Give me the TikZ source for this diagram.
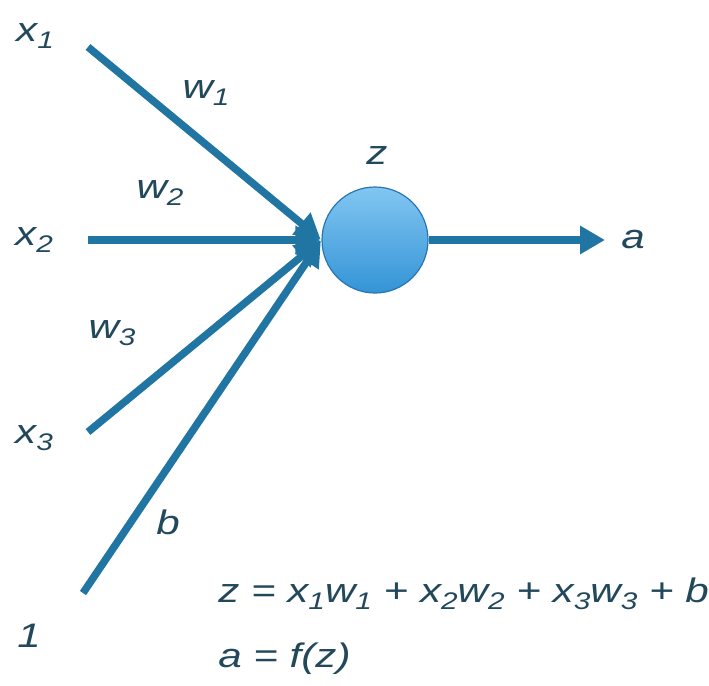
\documentclass[tikz,border=0pt]{standalone}
\usepackage{fontspec}
\setmainfont{Liberation Sans}
\usetikzlibrary{arrows.meta}
\definecolor{linec}{RGB}{32,117,162}
\definecolor{txtc}{RGB}{34,72,92}
\definecolor{ctop}{RGB}{130,198,242}
\definecolor{cbot}{RGB}{52,148,214}
\definecolor{cedge}{RGB}{40,118,175}
\newcommand{\sbs}[1]{\raisebox{-0.38ex}{\fontsize{24}{24}\selectfont #1}}
\tikzset{
  lbl/.style={text=txtc,font=\fontsize{34}{36}\selectfont\itshape,inner sep=0pt,xscale=1.24},
  conn/.style={draw=linec,line width=7.5pt,-{Triangle[length=25pt,width=27pt]},shorten >=1pt},
}
\begin{document}
\begin{tikzpicture}[x=1pt,y=-1pt]
\useasboundingbox (0,0) rectangle (709,685);
\node[circle,minimum size=106pt,inner sep=0pt,draw=cedge,line width=1.2pt,top color=ctop,bottom color=cbot] (c) at (375,240) {};
\coordinate (s1) at (88,47);
\coordinate (s2) at (88,240);
\coordinate (s3) at (88,432);
\coordinate (s4) at (83,593);
\coordinate (out) at (606,240);
\node[lbl] (x1) at (35,36) {x\sbs{1}};
\node[lbl] (x2) at (34,240) {x\sbs{2}};
\node[lbl] (x3) at (34,438) {x\sbs{3}};
\node[lbl] (one) at (29,636) {1};
\node[lbl] (w1) at (206,93) {w\sbs{1}};
\node[lbl] (w2) at (160,193) {w\sbs{2}};
\node[lbl] (w3) at (112,333) {w\sbs{3}};
\node[lbl] (b) at (168,522) {b};
\node[lbl] (z) at (377,156) {z};
\node[lbl] (a) at (633,240) {a};
\node[lbl,anchor=west] (eq1) at (218,594) {z = x\sbs{1}w\sbs{1} + x\sbs{2}w\sbs{2} + x\sbs{3}w\sbs{3} + b};
\node[lbl,anchor=west] (eq2) at (218,659) {a = f(z)};
\draw[conn] (s3) -- (c.west);
\draw[conn] (s4) -- (c.west);
\draw[conn] (s1) -- (c.west);
\draw[conn] (s2) -- (c.west);
\draw[conn] (c.east) -- (out);
\end{tikzpicture}
\end{document}
